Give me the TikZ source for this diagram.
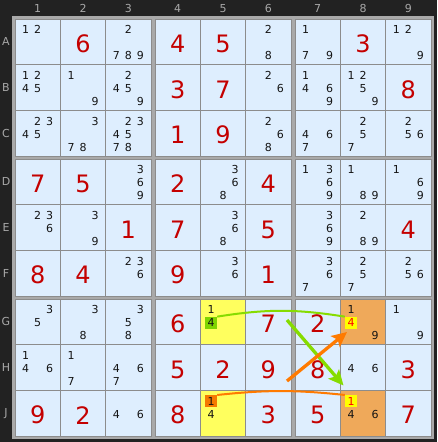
\documentclass[tikz,border=0pt]{standalone}
\usepackage{fontspec}
\setmainfont{DejaVu Sans}
\usetikzlibrary{arrows.meta}
\definecolor{bgdark}{HTML}{222222}
\definecolor{framegray}{HTML}{A9A9A9}
\definecolor{thingray}{HTML}{8C8C8C}
\definecolor{cellblue}{HTML}{DEEEFE}
\definecolor{givenred}{HTML}{C40000}
\definecolor{candink}{HTML}{141414}
\definecolor{labelgray}{HTML}{A8A8A8}
\definecolor{ylw}{HTML}{FFFF5E}
\definecolor{org}{HTML}{EFA95A}
\definecolor{hlgreen}{HTML}{7FD400}
\definecolor{hlorange}{HTML}{F57A00}
\definecolor{hlyellow}{HTML}{FFFF00}
\definecolor{hlred}{HTML}{FF0000}
\definecolor{chaingreen}{HTML}{86DC00}
\definecolor{chainorange}{HTML}{FF7A00}
\tikzset{
  cellbox/.style={draw=thingray, line width=1pt, fill=cellblue, minimum width=45.333pt, minimum height=45.667pt, inner sep=0pt, outer sep=0pt},
  given/.style={text=givenred, font=\fontsize{24}{24}\selectfont, inner sep=0pt},
  cand/.style={text=candink, font=\fontsize{11}{11}\selectfont, inner sep=0pt, minimum size=12pt},
  hdr/.style={text=labelgray, font=\fontsize{11}{11}\selectfont, inner sep=0pt},
  chainline/.style={line width=2pt},
  bigarrow/.style={line width=3.3pt, -{Stealth[length=15pt,width=14pt,inset=3pt]}}
}
\newcommand\sdkcell[4][cellblue]{%
  \pgfmathsetmacro\sdkx{15+140*floor((#3-1)/3)+(136/3)*mod(#3-1,3)+68/3}%
  \pgfmathsetmacro\sdky{19+140*floor((#4-1)/3)+(137/3)*mod(#4-1,3)+137/6}%
  \node[cellbox, fill=#1] (#2) at (\sdkx,\sdky) {};}
\newcommand\sdkgiven[2]{\node[given] (#1g) at ([shift={(0,2)}]#1.center) {#2};}
\newcommand\sdkcands[3][]{%
  \foreach \sdkd in {#3}{%
    \pgfmathsetmacro\sdkdx{(mod(\sdkd-1,3)-1)*12}%
    \pgfmathsetmacro\sdkdy{-12+13*floor((\sdkd-1)/3)}%
    \node[cand,#1] (#2c\sdkd) at ([shift={(\sdkdx,\sdkdy)}]#2.center) {\sdkd};}}
\begin{document}
\begin{tikzpicture}[x=1pt,y=-1pt]
\useasboundingbox (0,0) rectangle (437,442);
\fill[bgdark] (0,0) rectangle (437,442);
\fill[framegray] (12,16) rectangle (434,439);
% headers
\foreach \c in {1,...,9}{%
  \pgfmathsetmacro\sdkx{15+140*floor((\c-1)/3)+(136/3)*mod(\c-1,3)+68/3}%
  \node[hdr] (hc\c) at (\sdkx,8.5) {\c};}
\foreach \r/\L in {1/A,2/B,3/C,4/D,5/E,6/F,7/G,8/H,9/J}{%
  \pgfmathsetmacro\sdky{19+140*floor((\r-1)/3)+(137/3)*mod(\r-1,3)+137/6}%
  \node[hdr] (hr\L) at (6,\sdky) {\L};}
% cells
\foreach \r/\L in {1/A,2/B,3/C,4/D,5/E,6/F,7/G,8/H,9/J}{%
  \foreach \c in {1,...,9}{\sdkcell{\L\c}{\c}{\r}}}
\sdkcell[ylw]{G5}{5}{7}
\sdkcell[org]{G8}{8}{7}
\sdkcell[ylw]{J5}{5}{9}
\sdkcell[org]{J8}{8}{9}
% row A
\sdkcands{A1}{1,2} \sdkgiven{A2}{6} \sdkcands{A3}{2,7,8,9}
\sdkgiven{A4}{4} \sdkgiven{A5}{5} \sdkcands{A6}{2,8}
\sdkcands{A7}{1,7,9} \sdkgiven{A8}{3} \sdkcands{A9}{1,2,9}
% row B
\sdkcands{B1}{1,2,4,5} \sdkcands{B2}{1,9} \sdkcands{B3}{2,4,5,9}
\sdkgiven{B4}{3} \sdkgiven{B5}{7} \sdkcands{B6}{2,6}
\sdkcands{B7}{1,4,6,9} \sdkcands{B8}{1,2,5,9} \sdkgiven{B9}{8}
% row C
\sdkcands{C1}{2,3,4,5} \sdkcands{C2}{3,7,8} \sdkcands{C3}{2,3,4,5,7,8}
\sdkgiven{C4}{1} \sdkgiven{C5}{9} \sdkcands{C6}{2,6,8}
\sdkcands{C7}{4,6,7} \sdkcands{C8}{2,5,7} \sdkcands{C9}{2,5,6}
% row D
\sdkgiven{D1}{7} \sdkgiven{D2}{5} \sdkcands{D3}{3,6,9}
\sdkgiven{D4}{2} \sdkcands{D5}{3,6,8} \sdkgiven{D6}{4}
\sdkcands{D7}{1,3,6,9} \sdkcands{D8}{1,8,9} \sdkcands{D9}{1,6,9}
% row E
\sdkcands{E1}{2,3,6} \sdkcands{E2}{3,9} \sdkgiven{E3}{1}
\sdkgiven{E4}{7} \sdkcands{E5}{3,6,8} \sdkgiven{E6}{5}
\sdkcands{E7}{3,6,9} \sdkcands{E8}{2,8,9} \sdkgiven{E9}{4}
% row F
\sdkgiven{F1}{8} \sdkgiven{F2}{4} \sdkcands{F3}{2,3,6}
\sdkgiven{F4}{9} \sdkcands{F5}{3,6} \sdkgiven{F6}{1}
\sdkcands{F7}{3,6,7} \sdkcands{F8}{2,5,7} \sdkcands{F9}{2,5,6}
% row G
\sdkcands{G1}{3,5} \sdkcands{G2}{3,8} \sdkcands{G3}{3,5,8}
\sdkgiven{G4}{6} \sdkcands{G5}{1} \sdkgiven{G6}{7}
\sdkgiven{G7}{2} \sdkcands{G8}{1,9} \sdkcands{G9}{1,9}
% row H
\sdkcands{H1}{1,4,6} \sdkcands{H2}{1,7} \sdkcands{H3}{4,6,7}
\sdkgiven{H4}{5} \sdkgiven{H5}{2} \sdkgiven{H6}{9}
\sdkgiven{H7}{8} \sdkcands{H8}{4,6} \sdkgiven{H9}{3}
% row J
\sdkgiven{J1}{9} \sdkgiven{J2}{2} \sdkcands{J3}{4,6}
\sdkgiven{J4}{8} \sdkcands{J5}{4} \sdkgiven{J6}{3}
\sdkgiven{J7}{5} \sdkcands{J8}{4,6} \sdkgiven{J9}{7}
% highlighted candidates
\sdkcands[fill=hlgreen]{G5}{4}
\sdkcands[fill=hlyellow,text=hlred]{G8}{4}
\sdkcands[fill=hlorange]{J5}{1}
\sdkcands[fill=hlyellow,text=hlred]{J8}{1}
% links
\draw[chainline, chaingreen] (G5c4.north east) to[bend left=9] (G8c4.north west);
\draw[chainline, chainorange] (J5c1.north east) to[bend left=6] (J8c1.north west);
\coordinate (gS) at (287,320);
\coordinate (gT) at (343.5,385.5);
\coordinate (oS) at (287,381);
\coordinate (oT) at (347,332);
\draw[bigarrow, chaingreen] (gS) -- (gT);
\draw[bigarrow, chainorange] (oS) -- (oT);
\end{tikzpicture}
\end{document}
